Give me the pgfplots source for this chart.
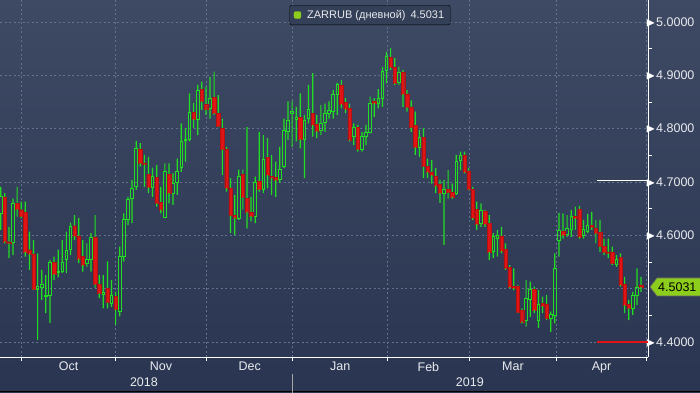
\documentclass[border=0pt]{standalone}
\usepackage{pgfplots}
\pgfplotsset{compat=1.18}
\usepackage{pgfplotstable}
\usepackage{amssymb}
\usepackage{fontspec}
\setmainfont{Liberation Sans}
\definecolor{bgtop}{RGB}{62,74,100}
\definecolor{bgbot}{RGB}{42,54,81}
\definecolor{cgreen}{RGB}{34,222,34}
\definecolor{cred}{RGB}{224,20,20}
\definecolor{gridc}{RGB}{98,113,142}
\definecolor{zlime}{RGB}{141,205,28}
\definecolor{legbg}{RGB}{52,63,88}
\definecolor{labc}{RGB}{232,234,238}

% up (green) candles: index open high low close
\pgfplotstableread{
i o h l c
0 4.641 4.691 4.610 4.672
3 4.587 4.669 4.563 4.660
9 4.498 4.566 4.404 4.504
10 4.503 4.535 4.479 4.508
11 4.486 4.526 4.454 4.488
12 4.488 4.554 4.436 4.549
14 4.531 4.573 4.521 4.533
15 4.532 4.591 4.529 4.549
16 4.554 4.607 4.529 4.571
17 4.573 4.624 4.563 4.616
21 4.548 4.585 4.541 4.555
22 4.555 4.604 4.532 4.596
25 4.489 4.526 4.463 4.492
27 4.473 4.516 4.466 4.487
29 4.457 4.579 4.448 4.560
30 4.561 4.641 4.551 4.629
31 4.629 4.672 4.619 4.668
32 4.669 4.704 4.623 4.687
33 4.691 4.777 4.685 4.763
37 4.690 4.727 4.672 4.710
40 4.633 4.735 4.632 4.719
42 4.679 4.716 4.657 4.698
43 4.699 4.744 4.676 4.719
44 4.727 4.810 4.719 4.776
45 4.777 4.801 4.738 4.779
46 4.779 4.866 4.776 4.831
48 4.818 4.882 4.788 4.871
51 4.838 4.897 4.819 4.857
58 4.632 4.723 4.629 4.710
62 4.636 4.710 4.623 4.699
64 4.686 4.788 4.679 4.743
68 4.704 4.766 4.698 4.723
69 4.729 4.819 4.726 4.796
70 4.794 4.851 4.779 4.816
71 4.829 4.852 4.766 4.832
72 4.818 4.841 4.776 4.821
74 4.780 4.826 4.707 4.815
75 4.819 4.882 4.810 4.836
78 4.797 4.844 4.788 4.810
79 4.812 4.847 4.794 4.829
80 4.828 4.851 4.819 4.835
81 4.832 4.872 4.819 4.865
82 4.864 4.886 4.826 4.882
86 4.785 4.810 4.769 4.802
88 4.761 4.794 4.757 4.785
89 4.785 4.807 4.769 4.792
90 4.792 4.860 4.791 4.847
92 4.847 4.874 4.838 4.857
93 4.857 4.916 4.841 4.908
94 4.909 4.944 4.885 4.936
97 4.886 4.916 4.882 4.905
102 4.765 4.797 4.747 4.784
108 4.679 4.704 4.582 4.686
111 4.679 4.751 4.676 4.739
112 4.740 4.757 4.722 4.749
117 4.622 4.660 4.616 4.647
120 4.569 4.604 4.557 4.597
121 4.594 4.610 4.560 4.599
128 4.441 4.516 4.429 4.482
129 4.480 4.513 4.447 4.499
131 4.441 4.497 4.426 4.471
134 4.444 4.457 4.419 4.452
135 4.449 4.566 4.435 4.538
136 4.590 4.642 4.560 4.609
138 4.601 4.638 4.597 4.613
139 4.611 4.647 4.597 4.635
142 4.599 4.629 4.594 4.611
143 4.607 4.640 4.604 4.619
150 4.546 4.563 4.541 4.555
154 4.463 4.494 4.451 4.488
155 4.487 4.538 4.469 4.502
}\up

% down (red) candles: index open high low close
\pgfplotstableread{
i o h l c
1 4.672 4.679 4.585 4.588
2 4.588 4.616 4.557 4.585
4 4.660 4.691 4.635 4.649
5 4.648 4.663 4.632 4.635
6 4.643 4.663 4.560 4.569
7 4.573 4.607 4.535 4.565
8 4.565 4.591 4.498 4.499
13 4.549 4.560 4.516 4.527
18 4.618 4.638 4.591 4.599
19 4.599 4.632 4.548 4.556
20 4.560 4.591 4.532 4.544
23 4.597 4.638 4.501 4.508
24 4.508 4.526 4.482 4.491
26 4.501 4.551 4.463 4.474
28 4.486 4.494 4.432 4.461
34 4.762 4.773 4.729 4.735
35 4.736 4.751 4.691 4.733
36 4.714 4.747 4.679 4.690
38 4.709 4.732 4.654 4.660
39 4.662 4.691 4.641 4.648
41 4.714 4.735 4.660 4.679
47 4.831 4.848 4.801 4.818
49 4.874 4.888 4.835 4.851
50 4.846 4.879 4.826 4.836
52 4.859 4.907 4.826 4.829
53 4.829 4.863 4.803 4.804
54 4.801 4.819 4.713 4.761
55 4.762 4.766 4.682 4.689
56 4.689 4.707 4.604 4.637
57 4.637 4.676 4.601 4.633
59 4.715 4.723 4.648 4.671
60 4.669 4.803 4.613 4.644
61 4.644 4.672 4.626 4.636
63 4.701 4.794 4.682 4.686
65 4.746 4.782 4.688 4.713
66 4.710 4.751 4.676 4.708
67 4.709 4.738 4.672 4.704
73 4.821 4.866 4.763 4.780
76 4.829 4.904 4.785 4.807
77 4.808 4.826 4.782 4.796
83 4.882 4.891 4.838 4.846
84 4.849 4.857 4.829 4.837
85 4.838 4.847 4.776 4.779
87 4.802 4.807 4.757 4.761
91 4.851 4.857 4.822 4.848
95 4.934 4.951 4.910 4.915
96 4.916 4.932 4.882 4.885
98 4.906 4.910 4.841 4.865
99 4.865 4.872 4.832 4.840
100 4.841 4.853 4.794 4.802
101 4.806 4.832 4.751 4.765
103 4.784 4.801 4.707 4.729
104 4.729 4.744 4.707 4.719
105 4.719 4.741 4.697 4.713
106 4.710 4.726 4.679 4.693
107 4.696 4.704 4.661 4.679
109 4.686 4.722 4.669 4.680
110 4.681 4.697 4.669 4.672
113 4.751 4.757 4.716 4.719
114 4.721 4.726 4.685 4.686
115 4.686 4.691 4.629 4.632
116 4.649 4.663 4.610 4.621
118 4.646 4.647 4.616 4.621
119 4.622 4.638 4.554 4.569
122 4.599 4.616 4.566 4.571
123 4.574 4.585 4.535 4.538
124 4.540 4.544 4.501 4.503
125 4.505 4.538 4.497 4.501
126 4.504 4.507 4.454 4.455
127 4.460 4.463 4.435 4.438
130 4.499 4.504 4.454 4.460
132 4.472 4.485 4.454 4.467
133 4.471 4.488 4.441 4.444
137 4.607 4.641 4.594 4.601
140 4.636 4.654 4.610 4.632
141 4.649 4.655 4.594 4.597
144 4.619 4.644 4.610 4.615
145 4.614 4.629 4.585 4.604
146 4.606 4.629 4.569 4.579
147 4.579 4.594 4.563 4.568
148 4.569 4.594 4.557 4.566
149 4.569 4.579 4.544 4.547
151 4.559 4.566 4.504 4.507
152 4.509 4.522 4.454 4.469
153 4.471 4.479 4.441 4.463
156 4.507 4.522 4.494 4.503
}\dn

\pgfplotsset{
  base/.style={
    at={(0pt,35pt)}, anchor=south west, scale only axis,
    width=648pt, height=357pt,
    xmin=-0.17, xmax=157.7, ymin=4.3718, ymax=5.0412,
  },
  candles/.style={base, hide axis, ybar stacked},
  gap/.style={draw=none, fill=none, bar width=1.2pt},
  wick/.style={draw=none, fill=cgreen, bar width=1.2pt},
}

\begin{document}
\begin{tikzpicture}
\path[use as bounding box] (0,0) rectangle (700pt,392pt);
\shade[top color=bgtop, bottom color=bgbot] (0,0) rectangle (700pt,392pt);
\fill[black] (0,0) rectangle (700pt,1.2pt);

\begin{axis}[base,
  /pgf/number format/assume math mode=true,
  axis x line=bottom, axis y line=right,
  axis line style={white, line width=1pt, -},
  tick align=outside,
  major tick length=0pt, minor tick length=4pt,
  minor tick style={white, line width=0.8pt},
  xtick={16.52,39.05,60.66,82.71,104.2,124.8,146.4},
  xticklabels={Oct,Nov,Dec,Jan,Feb,Mar,Apr},
  extra x ticks={34.9,114.3},
  extra x tick labels={2018,2019},
  extra x tick style={xticklabel style={yshift=-16pt}, xmajorgrids=false},
  minor xtick={5.12,27.92,50.18,71.13,94.28,114.15,135.44,157.37},
  xminorgrids=true, xmajorgrids=false,
  xticklabel style={text=labc, font=\fontsize{12.5}{14}\selectfont, inner sep=0pt, yshift=-5pt},
  ytick={4.4,4.6,4.7,4.8,4.9,5.0},
  extra y ticks={4.5}, extra y tick labels={},
  extra y tick style={ymajorgrids=true},
  minor ytick={4.45,4.55,4.65,4.75,4.85,4.95},
  ymajorgrids=true,
  yticklabel={\makebox[0pt][r]{\color{white}$\blacktriangleright$\hspace{0.5pt}}\pgfmathprintnumber[fixed,fixed zerofill,precision=4]{\tick}},
  yticklabel style={text=labc, font=\fontsize{12.5}{14}\selectfont, anchor=west, inner sep=0pt, xshift=8pt},
  major grid style={gridc, dash pattern=on 2pt off 2.5pt, line width=0.7pt},
  minor grid style={gridc, dash pattern=on 2pt off 2.5pt, line width=0.7pt},
  legend style={at={(0.571,0.986)}, anchor=north, fill=legbg, draw=black,
    rounded corners=2pt, text=labc, font=\fontsize{11}{13}\selectfont,
    inner xsep=4pt, inner ysep=3pt},
  legend cell align=left,
]
\addlegendimage{legend image code/.code={\fill[zlime] (0pt,-3.5pt) rectangle (7pt,3.5pt);}}
\addlegendentry{\hspace{4pt}ZARRUB (дневной)\hspace{5pt}4.5031}
% level lines
\addplot[white, line width=1.6pt] coordinates {(145.3,4.703) (157.7,4.703)};
\addplot[cred, line width=1.8pt] coordinates {(145.3,4.4) (157.7,4.4)};
\coordinate (tagpt) at (axis cs:157.7,4.5031);
\coordinate (sep) at (axis cs:71.13,4.3718);
\end{axis}

% up candles: low gap, lower wick, hollow body, upper wick
\begin{axis}[candles]
\addplot[gap] table[x=i, y=l] {\up};
\addplot[wick] table[x=i, y expr=\thisrow{o}-\thisrow{l}] {\up};
\addplot[draw=cgreen, fill=none, line width=0.9pt, bar width=0.62] table[x=i, y expr=\thisrow{c}-\thisrow{o}] {\up};
\addplot[wick] table[x=i, y expr=\thisrow{h}-\thisrow{c}] {\up};
\end{axis}

% down candles: low gap, lower wick, filled body, upper wick
\begin{axis}[candles]
\addplot[gap] table[x=i, y=l] {\dn};
\addplot[wick] table[x=i, y expr=\thisrow{c}-\thisrow{l}] {\dn};
\addplot[fill=cred, draw=cred!80!black, line width=0.3pt, bar width=0.85] table[x=i, y expr=\thisrow{o}-\thisrow{c}] {\dn};
\addplot[wick] table[x=i, y expr=\thisrow{h}-\thisrow{o}] {\dn};
\end{axis}

\draw[gray!70, line width=0.6pt] (sep) ++(0,-17pt) -- ++(0,-20pt);
\filldraw[fill=zlime, draw=black!60, line width=0.6pt]
  (tagpt) ++(2pt,0) -- ++(7pt,9pt) -- ++(60pt,0) -- ++(0,-18pt) -- ++(-60pt,0) -- cycle;
\node[anchor=west, inner sep=0pt, text=black, font=\fontsize{12.5}{14}\selectfont] at ([xshift=10pt]tagpt) {4.5031};
\end{tikzpicture}
\end{document}
